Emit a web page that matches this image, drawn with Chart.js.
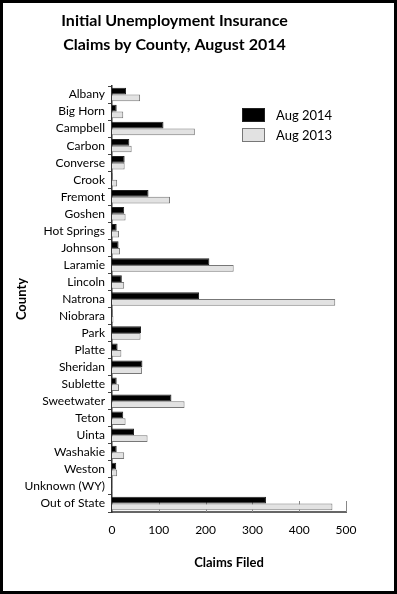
<!DOCTYPE html>
<html>
<head>
<meta charset="utf-8">
<script src="https://cdn.jsdelivr.net/npm/chart.js@4/dist/chart.umd.min.js"></script>
<style>
  html, body { margin: 0; padding: 0; background: #fff; }
  #frame { position: relative; width: 397px; height: 594px; box-sizing: border-box; border: 3px solid #000; overflow: hidden; }
  #c { display: block; }
  .lg { position: absolute; font-family: Lato, "Open Sans", sans-serif; font-size: 13px; color: #000; }
  .box { position: absolute; width: 23px; height: 14px; box-sizing: border-box; }
</style>
</head>
<body>
<div id="frame">
  <canvas id="c" width="391" height="588"></canvas>
  <div class="box" style="left:239px; top:105px; background:#000; border:1px solid #222;"></div>
  <div class="lg" style="left:273px; top:104px;">Aug 2014</div>
  <div class="box" style="left:239px; top:125px; background:#e2e2e2; border:1px solid #777;"></div>
  <div class="lg" style="left:273px; top:124px;">Aug 2013</div>
</div>
<script>
const categories = ["Albany", "Big Horn", "Campbell", "Carbon", "Converse", "Crook", "Fremont", "Goshen",
  "Hot Springs", "Johnson", "Laramie", "Lincoln", "Natrona", "Niobrara", "Park", "Platte", "Sheridan",
  "Sublette", "Sweetwater", "Teton", "Uinta", "Washakie", "Weston", "Unknown (WY)", "Out of State"];
const aug2014 = [30, 10, 110, 37, 27, 1, 78, 26, 10, 14, 208, 21, 186, 1, 62, 12, 65, 10, 127, 24, 47, 10, 9, 0, 329];
const aug2013 = [60, 24, 177, 42, 27, 11, 124, 29, 15, 17, 260, 26, 477, 3, 61, 20, 64, 15, 155, 29, 76, 26, 11, 1, 471];
const xTicks = [0, 100, 200, 300, 400, 500];

Chart.defaults.font.family = 'Lato, "Open Sans", sans-serif';
Chart.defaults.color = '#000';

const innerTicks = {
  id: 'innerTicks',
  beforeDatasetsDraw(chart) {
    const ctx = chart.ctx, xs = chart.scales.x, area = chart.chartArea;
    ctx.save();
    ctx.strokeStyle = '#888';
    ctx.lineWidth = 1;
    xTicks.forEach(v => {
      if (v === 0) return;
      const px = Math.round(xs.getPixelForValue(v)) + 0.5;
      ctx.beginPath();
      ctx.moveTo(px, area.bottom);
      ctx.lineTo(px, area.bottom - 11);
      ctx.stroke();
    });
    ctx.restore();
  }
};

new Chart(document.getElementById('c'), {
  type: 'bar',
  data: {
    labels: categories,
    datasets: [
      { label: 'Aug 2014', data: aug2014, backgroundColor: '#000', borderColor: '#222', borderWidth: 1,
        categoryPercentage: 0.79, barPercentage: 1.0 },
      { label: 'Aug 2013', data: aug2013, backgroundColor: '#e2e2e2', borderColor: '#777', borderWidth: 1,
        categoryPercentage: 0.79, barPercentage: 1.0 }
    ]
  },
  options: {
    indexAxis: 'y',
    responsive: false,
    maintainAspectRatio: false,
    devicePixelRatio: 1,
    animation: false,
    layout: { padding: { left: 0, right: 48, top: 0, bottom: 0 } },
    plugins: {
      legend: { display: false },
      tooltip: { enabled: false },
      title: {
        display: true,
        text: ['Initial Unemployment Insurance', 'Claims by County, August 2014'],
        font: { size: 16, weight: 'bold', lineHeight: 1.5 },
        color: '#000',
        padding: { top: 6, bottom: 29 }
      }
    },
    scales: {
      x: {
        min: 0, max: 500,
        afterBuildTicks: s => { s.ticks = xTicks.map(v => ({ value: v })); },
        afterFit: s => { s.height = 79; },
        grid: { display: false, drawTicks: false },
        border: { display: true, color: '#666', width: 2 },
        ticks: { padding: 11, font: { size: 12 }, color: '#000', maxRotation: 0 },
        title: { display: true, text: 'Claims Filed', font: { size: 13, weight: 'bold' }, color: '#000',
          padding: { top: 0, bottom: 20 } }
      },
      y: {
        afterFit: s => { s.width = 109; },
        grid: { display: true, drawOnChartArea: false, drawTicks: true, tickLength: 4, color: '#444', offset: true },
        border: { display: true, color: '#333', width: 1.5 },
        ticks: { padding: 3, font: { size: 12 }, color: '#000', autoSkip: false },
        title: { display: true, text: 'County', font: { size: 13, weight: 'bold' }, color: '#000',
          padding: { top: 11 } }
      }
    }
  },
  plugins: [innerTicks]
});
</script>
</body>
</html>
